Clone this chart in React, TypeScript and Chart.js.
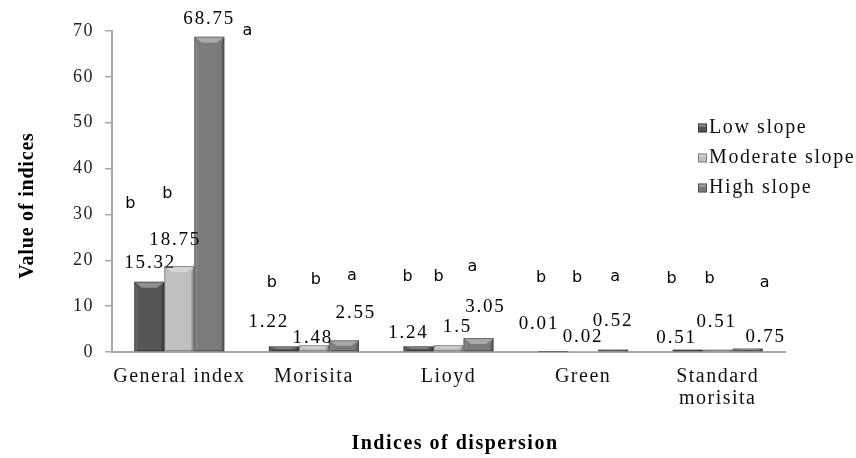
import { useEffect, useRef } from 'react';
import { Chart, registerables } from 'chart.js';

Chart.register(...registerables);

// ---------- data ----------
const categories = ['General index', 'Morisita', 'Lioyd', 'Green', 'Standard morisita'];
const seriesNames = ['Low slope', 'Moderate slope', 'High slope'];
const lowSlope = [15.32, 1.22, 1.24, 0.01, 0.51];
const moderateSlope = [18.75, 1.48, 1.5, 0.02, 0.51];
const highSlope = [68.75, 2.55, 3.05, 0.52, 0.75];
const lowLetters = ['b', 'b', 'b', 'b', 'b'];
const moderateLetters = ['b', 'b', 'b', 'b', 'b'];
const highLetters = ['a', 'a', 'a', 'a', 'a'];
const yMin = 0;
const yMax = 70;
const yStep = 10;
const yTitle = 'Value of indices';
const xTitle = 'Indices of dispersion';

// ---------- styles / layout ----------
const COLORS = ['#555555', '#bfbfbf', '#7b7b7b'];
const SERIF = "'Liberation Serif', 'Times New Roman', serif";
const SANS = "'DejaVu Sans', Verdana, sans-serif";
// value label offsets from bar-top centre [dx, dy to baseline] per series / category
const VALUE_OFFSETS = [
  [[0, -14], [-16, -19], [-11, -8], [-15, -23], [-12, -7]],
  [[-5, -21], [-2, -2], [8, -13], [-1, -10], [-2, -23]],
  [[-1, -13], [11, -22], [6, -26], [-1, -24], [17, -7]],
];
// significance letter positions: [dx from bar centre, baseline in axis units]
const LETTER_POS = [
  [[-19, 31.4], [-12, 14.2], [-11, 15.5], [-12, 15.3], [-16, 15.0]],
  [[-12, 33.6], [2, 14.8], [-10, 15.5], [-6, 15.3], [-8, 15.0]],
  [[38, 69.1], [8, 15.7], [-6, 17.7], [2, 15.5], [17, 14.2]],
];
const LEGEND = { x: 698, y: 128, gap: 30, box: 9 };

function bevel(ctx: CanvasRenderingContext2D, l: number, t: number, w: number, h: number) {
  if (h < 0.8) return;
  const by = Math.min(6, h / 2);
  const bx = Math.min(8, w / 4);
  const sw = Math.min(3, w / 6);
  ctx.fillStyle = 'rgba(255,255,255,0.35)';
  ctx.beginPath();
  ctx.moveTo(l, t);
  ctx.lineTo(l + w, t);
  ctx.lineTo(l + w - bx, t + by);
  ctx.lineTo(l + bx, t + by);
  ctx.closePath();
  ctx.fill();
  ctx.fillStyle = 'rgba(255,255,255,0.10)';
  ctx.beginPath();
  ctx.moveTo(l, t);
  ctx.lineTo(l + sw, t + by);
  ctx.lineTo(l + sw, t + h);
  ctx.lineTo(l, t + h);
  ctx.closePath();
  ctx.fill();
  ctx.fillStyle = 'rgba(0,0,0,0.18)';
  ctx.beginPath();
  ctx.moveTo(l + w, t);
  ctx.lineTo(l + w - sw, t + by);
  ctx.lineTo(l + w - sw, t + h);
  ctx.lineTo(l + w, t + h);
  ctx.closePath();
  ctx.fill();
  ctx.strokeStyle = 'rgba(0,0,0,0.35)';
  ctx.lineWidth = 1;
  ctx.strokeRect(l + 0.5, t + 0.5, w - 1, Math.max(0, h - 1));
}

const annotate = {
  id: 'annotate',
  beforeDraw(chart: any) {
    chart.ctx.letterSpacing = '1.5px';
  },
  afterDatasetsDraw(chart: any) {
    const ctx: CanvasRenderingContext2D = chart.ctx;
    const yScale = chart.scales.y;
    const letters = [lowLetters, moderateLetters, highLetters];
    ctx.save();
    chart.data.datasets.forEach((ds: any, di: number) => {
      const meta = chart.getDatasetMeta(di);
      meta.data.forEach((el: any, i: number) => {
        const { x, y, base, width } = el.getProps(['x', 'y', 'base', 'width'], true);
        bevel(ctx, x - width / 2, y, width, base - y);
        // value label
        const [dx, dy] = VALUE_OFFSETS[di][i];
        ctx.letterSpacing = '1.8px';
        ctx.font = `19px ${SERIF}`;
        ctx.fillStyle = '#000';
        ctx.textAlign = 'center';
        ctx.textBaseline = 'alphabetic';
        ctx.fillText(String(ds.data[i]), x + dx + 0.9, y + dy);
        // letter
        const [lx, lv] = LETTER_POS[di][i];
        ctx.letterSpacing = '0px';
        ctx.font = `16px ${SANS}`;
        ctx.fillStyle = '#000';
        ctx.fillText(letters[di][i], x + lx, yScale.getPixelForValue(lv));
      });
    });
    // legend
    chart.data.datasets.forEach((ds: any, di: number) => {
      const cy = LEGEND.y + di * LEGEND.gap;
      const b = LEGEND.box;
      ctx.fillStyle = ds.backgroundColor;
      ctx.fillRect(LEGEND.x, cy - b / 2, b, b);
      ctx.fillStyle = 'rgba(255,255,255,0.35)';
      ctx.fillRect(LEGEND.x + 1, cy - b / 2 + 1, b - 2, 2);
      ctx.strokeStyle = 'rgba(0,0,0,0.35)';
      ctx.lineWidth = 1;
      ctx.strokeRect(LEGEND.x + 0.5, cy - b / 2 + 0.5, b - 1, b - 1);
      ctx.letterSpacing = '1.6px';
      ctx.font = `20px ${SERIF}`;
      ctx.fillStyle = '#111';
      ctx.textAlign = 'left';
      ctx.textBaseline = 'alphabetic';
      ctx.fillText(ds.label, LEGEND.x + b + 2, cy + 5);
    });
    // axis titles
    ctx.font = `bold 20px ${SERIF}`;
    ctx.fillStyle = '#000';
    ctx.textAlign = 'center';
    ctx.textBaseline = 'alphabetic';
    ctx.letterSpacing = '1.5px';
    ctx.fillText(xTitle, 455, 449);
    ctx.save();
    ctx.translate(33, 206);
    ctx.rotate(-Math.PI / 2);
    ctx.letterSpacing = '0.8px';
    ctx.fillText(yTitle, 0.4, 0);
    ctx.restore();
    ctx.restore();
  },
  afterDraw(chart: any) {
    chart.ctx.letterSpacing = '0px';
  },
};

export default function App() {
  const ref = useRef<HTMLCanvasElement>(null);
  useEffect(() => {
    if (!ref.current) return;
    const chart = new Chart(ref.current, {
      type: 'bar',
      data: {
        labels: categories.map((c) => (c.length > 14 ? c.split(' ') : c)),
        datasets: [lowSlope, moderateSlope, highSlope].map((d, i) => ({
          label: seriesNames[i],
          data: d,
          backgroundColor: COLORS[i],
          borderWidth: 0,
          barPercentage: 1,
          categoryPercentage: 0.669,
        })),
      },
      options: {
        responsive: false,
        animation: false,
        devicePixelRatio: 1,
        layout: { padding: { top: 31, right: 71, bottom: 0, left: 0 } },
        plugins: {
          legend: { display: false },
          tooltip: { enabled: false },
          title: { display: false },
        },
        scales: {
          x: {
            grid: { display: false, drawTicks: false },
            border: { display: true, color: '#a8a8a8', width: 2 },
            ticks: {
              padding: 14,
              maxRotation: 0,
              autoSkip: false,
              color: '#111',
              font: { family: SERIF, size: 20, lineHeight: 1.1 },
            },
            afterFit: (s: any) => {
              s.height = 106;
            },
          },
          y: {
            min: yMin,
            max: yMax,
            ticks: {
              stepSize: yStep,
              padding: 11,
              color: '#222',
              font: { family: SERIF, size: 18 },
            },
            grid: { drawOnChartArea: false, drawTicks: true, tickLength: 7, color: '#a8a8a8', lineWidth: 1.5 },
            border: { display: true, color: '#a8a8a8', width: 2 },
            afterFit: (s: any) => {
              s.width = 112;
            },
          },
        },
      },
      plugins: [annotate],
    } as any);
    return () => chart.destroy();
  }, []);
  return (
    <div style={{ position: 'fixed', left: 0, top: 0, width: 856, height: 458, background: '#fff' }}>
      <canvas ref={ref} width={856} height={458} style={{ display: 'block', width: 856, height: 458 }} />
    </div>
  );
}
